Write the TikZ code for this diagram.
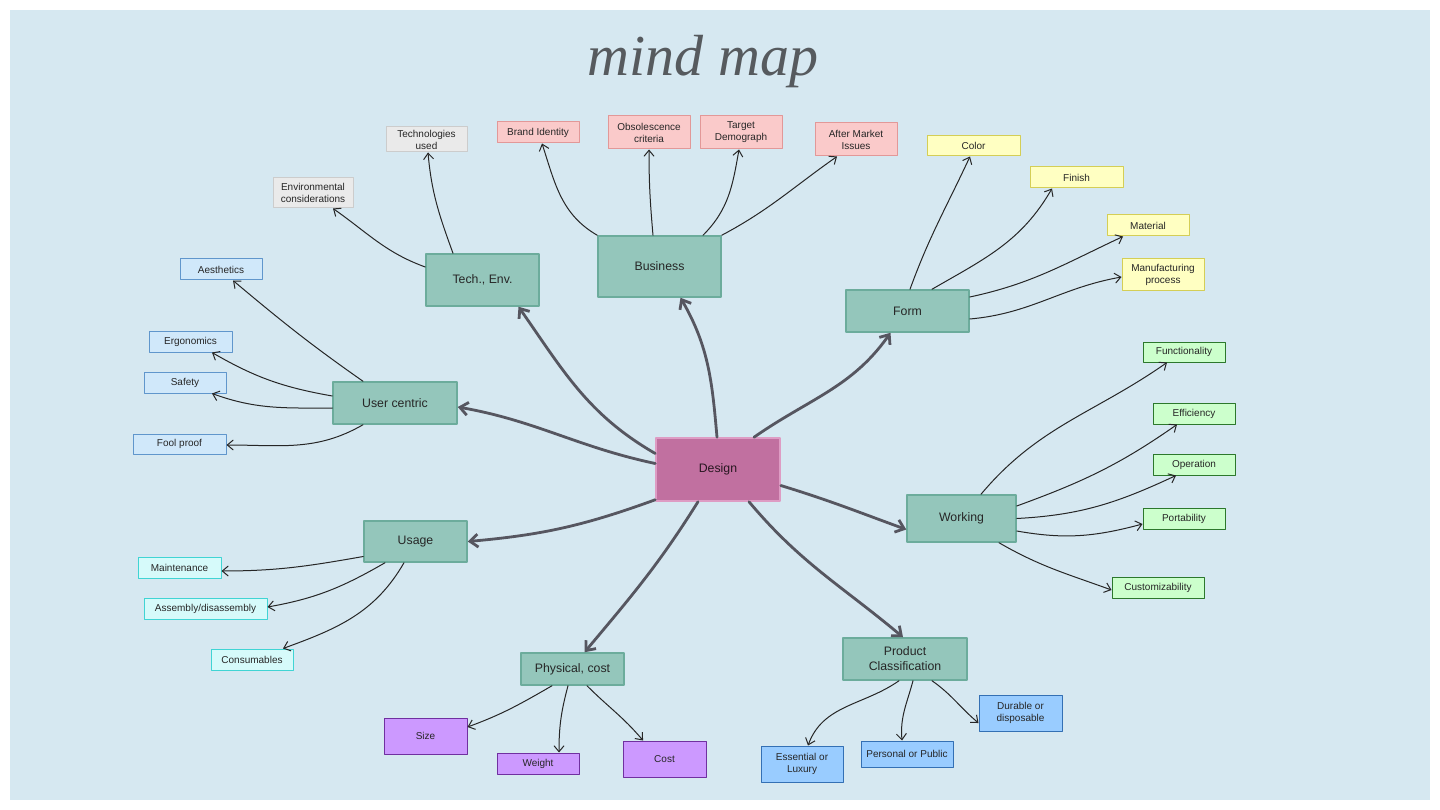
\documentclass[tikz,border=0pt]{standalone}
\usepackage{fontspec}
\setmainfont{Liberation Sans}
\newfontfamily\titlefont{Liberation Serif}
\usepackage{tikz}
\usetikzlibrary{arrows.meta}
\usepackage{xcolor}
\definecolor{bgblue}{RGB}{214,232,241}
\definecolor{tealfill}{RGB}{148,198,187}
\definecolor{tealline}{RGB}{108,172,156}
\definecolor{designfill}{RGB}{193,112,160}
\definecolor{designline}{RGB}{222,156,196}
\definecolor{greyfill}{RGB}{234,234,234}
\definecolor{greyline}{RGB}{204,204,204}
\definecolor{pinkfill}{RGB}{250,202,202}
\definecolor{pinkline}{RGB}{226,152,152}
\definecolor{yellowfill}{RGB}{255,255,194}
\definecolor{yellowline}{RGB}{212,206,86}
\definecolor{skyfill}{RGB}{208,232,250}
\definecolor{skyline}{RGB}{96,150,204}
\definecolor{cyanfill}{RGB}{214,250,250}
\definecolor{cyanline}{RGB}{64,212,212}
\definecolor{mintfill}{RGB}{204,255,204}
\definecolor{mintline}{RGB}{44,120,44}
\definecolor{violetfill}{RGB}{204,153,255}
\definecolor{violetline}{RGB}{112,48,160}
\definecolor{bluefill}{RGB}{153,204,255}
\definecolor{blueline}{RGB}{52,112,180}
\definecolor{arrowgrey}{RGB}{86,86,96}
\definecolor{titlegrey}{RGB}{86,90,94}

\begin{document}
\begin{tikzpicture}[x=1pt, y=1pt, line cap=round, line join=round,
    main/.style={draw=tealline, fill=tealfill, line width=1.5pt, inner sep=0pt, align=center, text=black!85, font=\fontsize{12.3}{15}\selectfont},
    leaf/.style={draw, line width=1pt, inner sep=0pt, align=center, text=black!85, font=\fontsize{10}{12}\selectfont, minimum width=82pt, minimum height=21pt},
    greyleaf/.style={leaf, fill=greyfill, draw=greyline},
    pinkleaf/.style={leaf, fill=pinkfill, draw=pinkline},
    yellowleaf/.style={leaf, fill=yellowfill, draw=yellowline},
    skyleaf/.style={leaf, fill=skyfill, draw=skyline},
    cyanleaf/.style={leaf, fill=cyanfill, draw=cyanline},
    mintleaf/.style={leaf, fill=mintfill, draw=mintline},
    violetleaf/.style={leaf, fill=violetfill, draw=violetline},
    blueleaf/.style={leaf, fill=bluefill, draw=blueline},
    branch/.style={draw=arrowgrey, line width=2.8pt, -{Straight Barb[length=8pt,width=13pt]}},
    twig/.style={draw=black!85, line width=1pt, -{Straight Barb[length=6pt,width=10pt]}}]

    \useasboundingbox (0,0) rectangle (1440,-810);
    \fill[white] (0,0) rectangle (1440,-810);
    \fill[bgblue] (10,-10) rectangle (1430,-800);

    \node[font=\titlefont\itshape\fontsize{58}{60}\selectfont, text=titlegrey, anchor=base] (title) at (703,-76) {mind map};

    % centre and first ring
    \node[main, draw=designline, fill=designfill, text=black!80!designfill, minimum width=124pt, minimum height=63pt] (des) at (718,-469.5) {Design};
    \node[main, minimum width=113pt, minimum height=52pt] (tech) at (482.5,-280) {Tech., Env.};
    \node[main, minimum width=123pt, minimum height=61pt] (bus) at (659.5,-266.5) {Business};
    \node[main, minimum width=123pt, minimum height=42pt] (form) at (907.5,-311) {Form};
    \node[main, minimum width=124pt, minimum height=42pt] (user) at (395,-403) {User centric};
    \node[main, minimum width=103pt, minimum height=41pt] (usage) at (415.5,-541.5) {Usage};
    \node[main, minimum width=109pt, minimum height=47pt] (work) at (961.5,-518.5) {Working};
    \node[main, minimum width=103pt, minimum height=32pt] (phys) at (572.5,-669) {Physical, cost};
    \node[main, minimum width=124pt, minimum height=42pt] (prod) at (905,-659) {Product\\Classification};

    % leaves
    \node[greyleaf, minimum width=81pt, minimum height=25pt] (techused) at (426.5,-139.5) {Technologies\\used};
    \node[greyleaf, minimum width=80pt, minimum height=30pt] (env) at (313,-193) {Environmental\\considerations};

    \node[pinkleaf] (brand) at (538,-132.5) {Brand Identity};
    \node[pinkleaf, minimum height=33pt] (obs) at (649,-132.5) {Obsolescence\\criteria};
    \node[pinkleaf, minimum height=33pt] (target) at (741,-132.5) {Target\\Demograph};
    \node[pinkleaf, minimum height=33pt] (after) at (856,-139.5) {After Market\\Issues};

    \node[yellowleaf, minimum width=93pt, minimum height=20pt] (color) at (973.5,-146) {Color};
    \node[yellowleaf, minimum width=93pt] (finish) at (1076.5,-177.5) {Finish};
    \node[yellowleaf] (material) at (1148,-225.5) {Material};
    \node[yellowleaf, minimum height=32pt] (manuf) at (1163,-275) {Manufacturing\\process};

    \node[skyleaf] (aesth) at (221,-269.5) {Aesthetics};
    \node[skyleaf, minimum width=83pt] (ergo) at (190.5,-341.5) {Ergonomics};
    \node[skyleaf] (safety) at (185,-382.5) {Safety};
    \node[skyleaf, minimum width=93pt, minimum height=20pt] (fool) at (179.5,-444) {Fool proof};

    \node[cyanleaf, minimum width=83pt] (maint) at (179.5,-567.5) {Maintenance};
    \node[cyanleaf, minimum width=123pt] (assem) at (205.5,-608.5) {Assembly/disassembly};
    \node[cyanleaf] (consum) at (252,-659.5) {Consumables};

    \node[mintleaf, minimum height=20pt] (func) at (1184,-352) {Functionality};
    \node[mintleaf] (eff) at (1194,-413.5) {Efficiency};
    \node[mintleaf] (oper) at (1194,-464.5) {Operation};
    \node[mintleaf] (port) at (1184,-518.5) {Portability};
    \node[mintleaf, minimum width=92pt] (cust) at (1158,-587.5) {Customizability};

    \node[violetleaf, minimum width=83pt, minimum height=36pt] (size) at (425.5,-736) {Size};
    \node[violetleaf] (weight) at (538,-763.5) {Weight};
    \node[violetleaf, minimum width=83pt, minimum height=36pt] (cost) at (664.5,-759) {Cost};

    \node[blueleaf, minimum height=36pt] (ess) at (802,-764) {Essential or\\Luxury};
    \node[blueleaf, minimum width=92pt, minimum height=26pt] (pers) at (907,-754) {Personal or Public};
    \node[blueleaf, minimum width=83pt, minimum height=36pt] (dur) at (1020.5,-713) {Durable or\\disposable};

    % thick arrows out of the centre
    \draw[branch] ([yshift=16pt]des.west) to[out=150,in=-55] ([xshift=36pt]tech.south);
    \draw[branch] ([xshift=-1pt]des.north) to[out=95,in=-60] ([xshift=21pt]bus.south);
    \draw[branch] ([xshift=36pt]des.north) to[out=35,in=-125] ([xshift=-17pt]form.south);
    \draw[branch] ([yshift=6pt]des.west) to[out=168,in=-10] ([yshift=-4pt]user.east);
    \draw[branch] ([yshift=2pt]des.south west) to[out=200,in=5] (usage.east);
    \draw[branch] ([xshift=-20pt]des.south) to[out=238,in=50] ([xshift=12pt]phys.north);
    \draw[branch] ([xshift=31pt]des.south) to[out=-50,in=140] ([xshift=-2pt]prod.north);
    \draw[branch] ([yshift=-16pt]des.east) to[out=-17,in=160] ([yshift=-11pt]work.west);

    % thin arrows to the leaves
    \draw[twig] ([yshift=13pt]tech.west) to[out=160,in=-35] ([xshift=20pt]env.south);
    \draw[twig] ([xshift=-29.5pt]tech.north) to[out=110,in=-85] ([xshift=1.5pt]techused.south);

    \draw[twig] (bus.north west) to[out=150,in=-72] ([xshift=4pt]brand.south);
    \draw[twig] ([xshift=-6.5pt]bus.north) to[out=95,in=-90] (obs.south);
    \draw[twig] ([xshift=43.5pt]bus.north) to[out=45,in=-100] ([xshift=-2pt]target.south);
    \draw[twig] (bus.north east) to[out=28,in=-145] ([xshift=-19pt]after.south);

    \draw[twig] ([xshift=2.5pt]form.north) to[out=70,in=-115] ([xshift=-3.5pt]color.south);
    \draw[twig] ([xshift=24.5pt]form.north) to[out=30,in=-120] ([xshift=-24.5pt]finish.south);
    \draw[twig] ([yshift=14pt]form.east) to[out=12,in=-155] ([xshift=-25pt]material.south);
    \draw[twig] ([yshift=-8pt]form.east) to[out=5,in=-170] ([yshift=-2pt]manuf.west);

    \draw[twig] ([xshift=-32pt]user.north) to[out=145,in=-40] ([xshift=12pt]aesth.south);
    \draw[twig] ([yshift=7pt]user.west) to[out=170,in=-30] ([xshift=21.5pt]ergo.south);
    \draw[twig] ([yshift=-5pt]user.west) to[out=180,in=-20] ([xshift=27pt]safety.south);
    \draw[twig] ([xshift=-32pt]user.south) to[out=210,in=0] ([yshift=-1pt]fool.east);

    \draw[twig] ([yshift=-15pt]usage.west) to[out=190,in=0] ([yshift=-3.5pt]maint.east);
    \draw[twig] ([xshift=-30.5pt]usage.south) to[out=210,in=10] ([yshift=1.5pt]assem.east);
    \draw[twig] ([xshift=-11.5pt]usage.south) to[out=240,in=20] ([xshift=31pt]consum.north);

    \draw[twig] ([xshift=19.5pt]work.north) to[out=50,in=-145] ([xshift=-17pt]func.south);
    \draw[twig] ([yshift=12.5pt]work.east) to[out=20,in=-145] ([xshift=-17pt]eff.south);
    \draw[twig] (work.east) to[out=3,in=-155] ([xshift=-18pt]oper.south);
    \draw[twig] ([yshift=-12.5pt]work.east) to[out=-10,in=-165] ([yshift=-5.5pt]port.west);
    \draw[twig] ([xshift=37.5pt]work.south) to[out=-30,in=160] ([yshift=-2.5pt]cust.west);

    \draw[twig] ([xshift=-20.5pt]phys.south) to[out=210,in=20] ([yshift=9pt]size.east);
    \draw[twig] ([xshift=-4.5pt]phys.south) to[out=255,in=90] ([xshift=21pt]weight.north);
    \draw[twig] ([xshift=14.5pt]phys.south) to[out=-45,in=130] ([xshift=-21.5pt]cost.north);

    \draw[twig] ([xshift=-6pt]prod.south) to[out=215,in=70] ([xshift=6pt]ess.north);
    \draw[twig] ([xshift=8pt]prod.south) to[out=255,in=95] ([xshift=-5pt]pers.north);
    \draw[twig] ([xshift=27pt]prod.south) to[out=-35,in=140] ([yshift=-10pt]dur.west);
\end{tikzpicture}
\end{document}
